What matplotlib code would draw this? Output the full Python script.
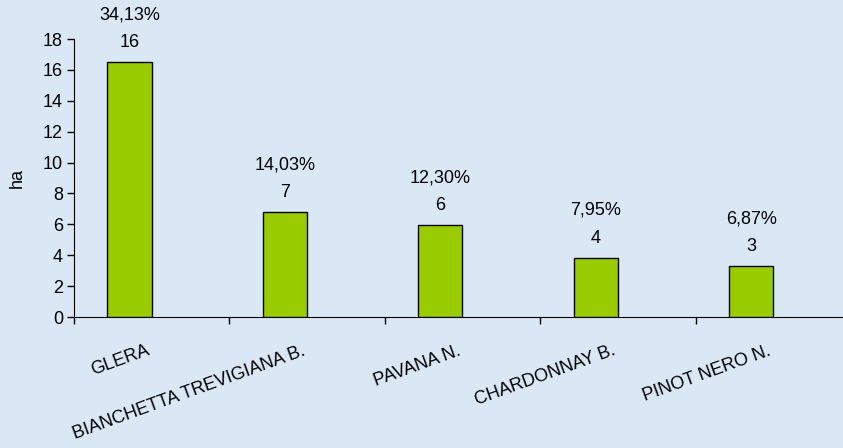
import numpy as np
import matplotlib.pyplot as plt

varieta = ['GLERA', 'BIANCHETTA TREVIGIANA B.', 'PAVANA N.', 'CHARDONNAY B.', 'PINOT NERO N.']
ettari = [16.49, 6.78, 5.95, 3.84, 3.32]
etichette_ha = ['16', '7', '6', '4', '3']
percentuali = ['34,13%', '14,03%', '12,30%', '7,95%', '6,87%']

plt.rcParams['font.family'] = ['Liberation Sans', 'DejaVu Sans']
fs = 13

sfondo = '#dae7f5'
fig = plt.figure(figsize=(8.43, 4.48), dpi=100, facecolor=sfondo)
ax = fig.add_axes([74 / 843, 1 - 317 / 448, 1 - 74 / 843, (317 - 39) / 448])
ax.set_facecolor(sfondo)

x = np.arange(len(varieta))
larghezza = 0.285
barre = ax.bar(x - larghezza / 2, ettari, width=larghezza, color='#99cc00',
               edgecolor='black', linewidth=1, zorder=3)

for b, h, p in zip(barre, etichette_ha, percentuali):
    cx = b.get_x() + b.get_width() / 2
    top = b.get_height()
    ax.annotate(h, (cx, top), xytext=(0, 14), textcoords='offset points',
                ha='center', va='center', fontsize=fs)
    ax.annotate(p, (cx, top), xytext=(0, 34), textcoords='offset points',
                ha='center', va='center', fontsize=fs)

ax.set_xlim(-0.5, (843 - 74) / 155.4 - 0.5)
ax.set_ylim(0, 18)
ax.set_yticks(range(0, 19, 2))
ax.set_xticks(np.arange(len(varieta)) - 0.5)
ax.set_xticklabels([])
ax.tick_params(axis='x', direction='out', length=5, width=1)
ax.tick_params(axis='y', direction='out', length=5, width=1, labelsize=fs, pad=3)

for xi, nome in zip(x, varieta):
    ax.annotate(nome, (xi, 0), xytext=(-2, -24), textcoords='offset points',
                ha='right', va='center', rotation=20, rotation_mode='anchor',
                fontsize=fs, annotation_clip=False)

ax.spines['top'].set_visible(False)
ax.spines['right'].set_visible(False)
ax.set_ylabel('ha', fontsize=fs, labelpad=12)

fig.savefig('out.png', dpi=100, facecolor=sfondo)
